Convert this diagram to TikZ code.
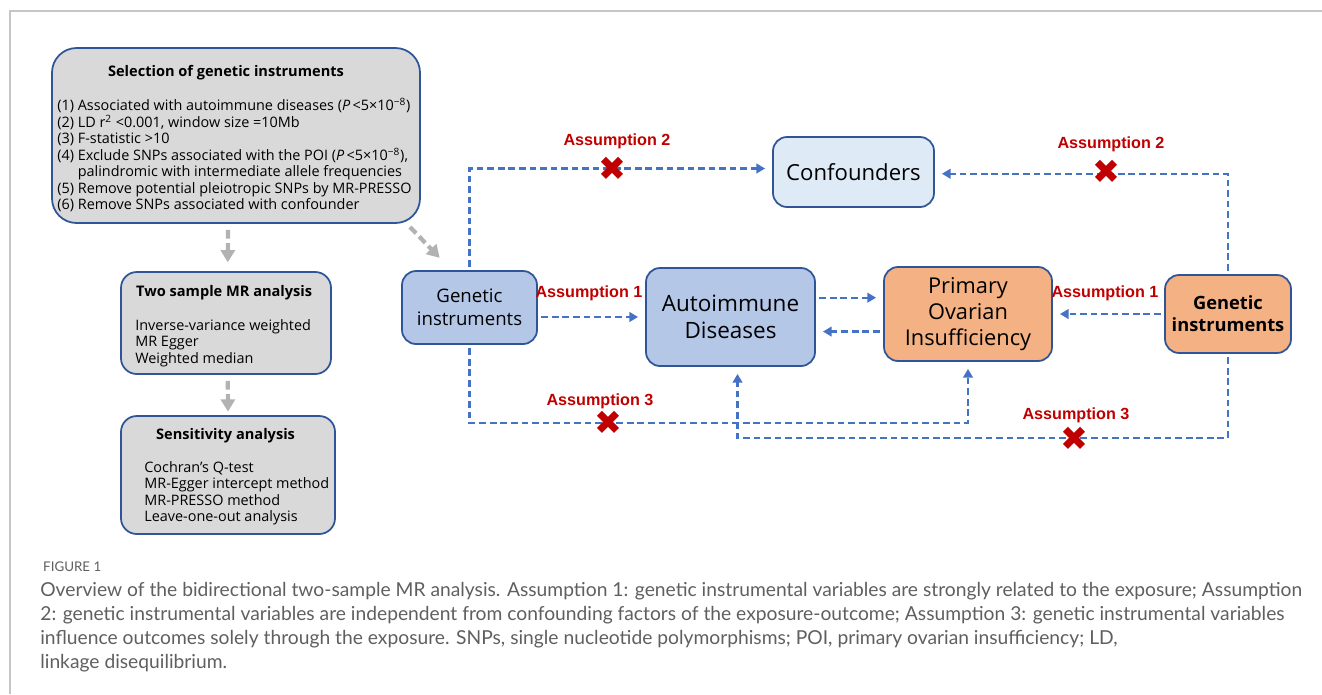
\documentclass[tikz,border=0pt]{standalone}
\usepackage{fontspec}
\setmainfont{Open Sans}
\newfontfamily\labfont{Liberation Sans}
\newfontfamily\capfont{Lato}
\newfontfamily\symfont{DejaVu Sans}
\usetikzlibrary{
    positioning,
    arrows.meta
}
\definecolor{boxgray}{HTML}{D9D9D9}
\definecolor{boxline}{HTML}{2F5597}
\definecolor{midblue}{HTML}{B4C7E7}
\definecolor{paleblue}{HTML}{DEEBF7}
\definecolor{poiorange}{HTML}{F4B183}
\definecolor{flowblue}{HTML}{4472C4}
\definecolor{crossred}{HTML}{C00000}
\definecolor{capgray}{HTML}{5F5F5F}

\begin{document}
\begin{tikzpicture}[x=0.02cm,y=-0.02cm,
    graybox/.style={draw=boxline,line width=1pt,fill=boxgray,rounded corners=9pt},
    bluebox/.style={draw=boxline,line width=1pt,rounded corners=8pt,align=center,inner sep=0pt},
    flow/.style={draw=flowblue,line width=1.3pt,dash pattern=on 3.8pt off 2.2pt,-{Triangle[length=5pt,width=5.5pt]},shorten >=4pt,shorten <=2pt},
    grayflow/.style={draw=gray!60,line width=2.4pt,dash pattern=on 5pt off 2.5pt,-{Triangle[length=7pt,width=8pt]}},
    assum/.style={font=\labfont\bfseries\fontsize{9.2}{11}\selectfont,text=crossred},
    cross/.style={font=\symfont\fontsize{19}{19}\selectfont,text=crossred,inner sep=0pt}]
	\useasboundingbox (0,0) rectangle (1322,694);
	\draw[gray!45,line width=0.8pt] (1322,11) -- (10,11) -- (10,694);
	% left column
	\node[graybox,minimum width=368*0.02cm,minimum height=175*0.02cm,rounded corners=14pt] (sel) at (236,135.5) {};
	\node[font=\bfseries\fontsize{8.3}{10}\selectfont] (selt) at (226,73) {Selection of genetic instruments};
	\node[anchor=north west,align=left,inner sep=0pt,font=\fontsize{8.2}{9.4}\selectfont] (sell) at (57,98) {%
		(1) Associated with autoimmune diseases ({\itshape P}\,<5×10\textsuperscript{−8})\\
		(2) LD r\textsuperscript{2} <0.001, window size =10Mb\\
		(3) F-statistic >10\\
		(4) Exclude SNPs associated with the POI ({\itshape P}\,<5×10\textsuperscript{−8}),\\
		\phantom{(4) }palindromic with intermediate allele frequencies\\
		(5) Remove potential pleiotropic SNPs by MR-PRESSO\\
		(6) Remove SNPs associated with confounder};
	\node[graybox,minimum width=210*0.02cm,minimum height=102*0.02cm] (two) at (226,323) {};
	\node[anchor=west,font=\bfseries\fontsize{8.3}{10}\selectfont] (twot) at (130,293) {Two sample MR analysis};
	\node[anchor=north west,align=left,inner sep=0pt,font=\fontsize{8.2}{9.4}\selectfont] (twol) at (135,319) {%
		Inverse-variance weighted\\
		MR Egger\\
		Weighted median};
	\node[graybox,minimum width=214*0.02cm,minimum height=118*0.02cm] (sen) at (228,475) {};
	\node[anchor=west,font=\bfseries\fontsize{8.3}{10}\selectfont] (sent) at (150,436) {Sensitivity analysis};
	\node[anchor=north west,align=left,inner sep=0pt,font=\fontsize{8.2}{9.4}\selectfont] (senl) at (144,461) {%
		Cochran's Q-test\\
		MR-Egger intercept method\\
		MR-PRESSO method\\
		Leave-one-out analysis};
	\draw[grayflow] (sel.south -| two.north) ++(2,6) -- ([xshift=1pt,yshift=5pt]two.north);
	\draw[grayflow] ([xshift=1pt,yshift=-3.4pt]two.south) -- ([yshift=2pt]sen.north);
	% right part
	\node[bluebox,fill=midblue,minimum width=135*0.02cm,minimum height=73*0.02cm,font=\fontsize{10.6}{13}\selectfont] (gil) at (469.5,307.5) {Genetic\\instruments};
	\node[bluebox,fill=midblue,minimum width=169*0.02cm,minimum height=98*0.02cm,font=\fontsize{12.8}{15}\selectfont] (ad) at (730.5,317) {Autoimmune\\Diseases};
	\node[bluebox,fill=paleblue,minimum width=161*0.02cm,minimum height=70*0.02cm,font=\fontsize{12.6}{15}\selectfont] (conf) at (853.5,172) {Confounders};
	\node[bluebox,fill=poiorange,minimum width=168*0.02cm,minimum height=94*0.02cm,font=\fontsize{12.4}{14.6}\selectfont] (poi) at (968,314) {Primary\\Ovarian\\Insufficiency};
	\node[bluebox,fill=poiorange,minimum width=126*0.02cm,minimum height=78*0.02cm,font=\bfseries\fontsize{10.4}{12.6}\selectfont] (gir) at (1228,314) {Genetic\\instruments};
	\draw[grayflow] (410,227) -- ([xshift=-17pt,yshift=7pt]gil.north);
	% assumptions
	\draw[flow] (gil.north) |- ([yshift=2pt]conf.west);
	\draw[flow] (gir.north) |- ([yshift=-1pt]conf.east);
	\draw[flow] (gil.east |- ad.west) -- (ad.west);
	\draw[flow] ([yshift=11pt]ad.east) -- ([yshift=11pt]ad.east -| poi.west);
	\draw[flow] ([yshift=-10pt]poi.west) -- ([yshift=-10pt]poi.west -| ad.east);
	\draw[flow] (gir.west) -- (gir.west -| poi.east);
	\draw[flow] (gil.south) -- ++(0,78) -| (poi.south);
	\draw[flow] (gir.south) -- ++(0,84) -| ([xshift=4pt]ad.south);
	\node[assum] (a2l) at (617,141) {Assumption 2};
	\node[assum] (a2r) at (1111,144) {Assumption 2};
	\node[assum] (a1l) at (589,293) {Assumption 1};
	\node[assum] (a1r) at (1105,293) {Assumption 1};
	\node[assum] (a3l) at (600,401) {Assumption 3};
	\node[assum] (a3r) at (1076,415) {Assumption 3};
	\node[cross] (x2l) at (612,169) {✖};
	\node[cross] (x2r) at (1106,172) {✖};
	\node[cross] (x3l) at (608,423) {✖};
	\node[cross] (x3r) at (1074,439) {✖};
	% caption
	\node[anchor=west,text=capgray,font=\capfont\fontsize{7.6}{9}\selectfont] (fig) at (37,567) {FIGURE 1};
	\node[anchor=north west,align=left,inner sep=0pt,text=capgray,font=\capfont\fontsize{10.95}{13.6}\selectfont] (cap) at (40,582) {%
		Overview of the bidirectional two-sample MR analysis. Assumption 1: genetic instrumental variables are strongly related to the exposure; Assumption\\
		2: genetic instrumental variables are independent from confounding factors of the exposure-outcome; Assumption 3: genetic instrumental variables\\
		influence outcomes solely through the exposure. SNPs, single nucleotide polymorphisms; POI, primary ovarian insufficiency; LD,\\
		linkage disequilibrium.};
\end{tikzpicture}
\end{document}
